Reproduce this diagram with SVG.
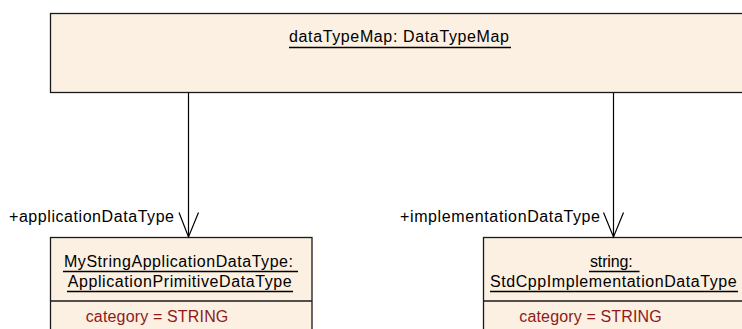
<svg xmlns="http://www.w3.org/2000/svg" width="742" height="329" viewBox="0 0 742 329">
<style>
.box{fill:#FBF0E2;stroke:#1a1a1a;stroke-width:1.3}
.t{font-family:"Liberation Sans",Arial,sans-serif;font-size:16px;fill:#000}
.attr{font-family:"Liberation Sans",Arial,sans-serif;font-size:16px;fill:#8E1B1B}
.ul{stroke:#000;stroke-width:1.3}
.conn{stroke:#000;stroke-width:1.2;fill:none}
</style>
<rect width="742" height="329" fill="#ffffff"/>
<g id="dataTypeMap">
<rect class="box" x="50.5" y="13.5" width="700" height="79"/>
<text class="t" x="289" y="42" textLength="220" lengthAdjust="spacing">dataTypeMap: DataTypeMap</text>
<line class="ul" x1="289" y1="47.5" x2="511" y2="47.5"/>
</g>
<g id="MyStringApplicationDataType">
<rect class="box" x="50.5" y="237.5" width="261.5" height="100"/>
<line class="box" x1="50.5" y1="301" x2="312" y2="301"/>
<text class="t" x="64" y="267" textLength="229" lengthAdjust="spacing">MyStringApplicationDataType:</text>
<line class="ul" x1="63" y1="271.5" x2="298" y2="271.5"/>
<text class="t" x="67.7" y="287" textLength="224" lengthAdjust="spacing">ApplicationPrimitiveDataType</text>
<line class="ul" x1="67" y1="291.5" x2="293" y2="291.5"/>
<text class="attr" x="85.7" y="322" textLength="142.6" lengthAdjust="spacing">category = STRING</text>
</g>
<g id="string">
<rect class="box" x="483.5" y="237.5" width="262" height="100"/>
<line class="box" x1="483.5" y1="301" x2="745" y2="301"/>
<text class="t" x="590" y="267" textLength="42.7" lengthAdjust="spacing">string:</text>
<line class="ul" x1="589" y1="271.5" x2="639.5" y2="271.5"/>
<text class="t" x="490" y="287" textLength="246.7" lengthAdjust="spacing">StdCppImplementationDataType</text>
<line class="ul" x1="490" y1="291.5" x2="738" y2="291.5"/>
<text class="attr" x="519.3" y="322" textLength="142.4" lengthAdjust="spacing">category = STRING</text>
</g>
<g id="connectors">
<line class="conn" x1="188.5" y1="93" x2="188.5" y2="237"/>
<polyline class="conn" points="179,212.5 188.5,237 198.5,212.5"/>
<text class="t" x="9" y="222" textLength="165" lengthAdjust="spacing">+applicationDataType</text>
<line class="conn" x1="613.5" y1="93" x2="613.5" y2="237"/>
<polyline class="conn" points="603.5,212.5 613.5,237 623.5,212.5"/>
<text class="t" x="400" y="222" textLength="200" lengthAdjust="spacing">+implementationDataType</text>
</g>
</svg>
